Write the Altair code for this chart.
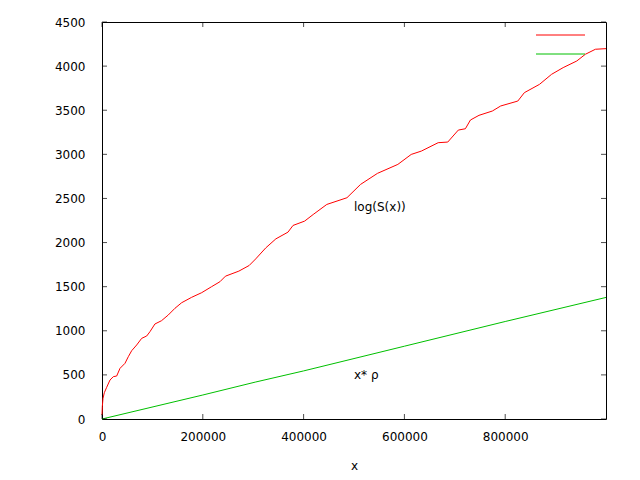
import altair as alt
import pandas as pd

# log(S(x)) curve (red)
red_x = [0, 600, 2000, 4600, 9300, 15900, 22500, 29100, 35700, 45600, 52200, 58900,
         68800, 78700, 88700, 95200, 105000, 118000, 131500, 144800, 158000, 177800,
         197800, 217500, 234000, 245000, 271500, 292000, 305000, 325000, 345000,
         369000, 379000, 402000, 419000, 446000, 486000, 513000, 546500, 587000,
         613500, 633700, 667000, 686000, 707000, 721000, 731000, 748000, 774500,
         791000, 825000, 838000, 868000, 892000, 915000, 942000, 959000, 979000, 1000000]
red_y = [45, 140, 235, 298, 359, 442, 480, 487, 574, 631, 706, 774,
         839, 914, 941, 990, 1077, 1114, 1179, 1255, 1318, 1379,
         1432, 1500, 1556, 1619, 1676, 1740, 1815, 1940, 2042,
         2118, 2194, 2243, 2318, 2432, 2508, 2659, 2784, 2886,
         2999, 3037, 3132, 3139, 3275, 3290, 3389, 3442, 3491,
         3548, 3604, 3699, 3793, 3907, 3983, 4058, 4134, 4191, 4198]

# x*rho line (green)
green_x = [0, 200000, 304000, 400000, 600000, 800000, 1000000]
green_y = [0, 272, 418, 545, 825, 1105, 1378]

x_ticks = [0, 200000, 400000, 600000, 800000]
y_ticks = [0, 500, 1000, 1500, 2000, 2500, 3000, 3500, 4000, 4500]

labels_text = ["log(S(x))", "x* ρ"]
labels_x = [500000, 500000]
labels_y = [2400, 500]

FONT = "DejaVu Sans"
W, H, T = 504, 397, 5
xs = alt.Scale(domain=[0, 1000000], nice=False, zero=False)
ys = alt.Scale(domain=[0, 4500], nice=False, zero=False)

red_df = pd.DataFrame({"x": red_x, "y": red_y})
green_df = pd.DataFrame({"x": green_x, "y": green_y})
lab_df = pd.DataFrame({"x": labels_x, "y": labels_y, "t": labels_text})
xt_df = pd.DataFrame({"x": x_ticks})
yt_df = pd.DataFrame({"y": y_ticks})

ax_bottom = alt.Axis(orient="bottom", values=x_ticks, ticks=False, domain=False,
                     grid=False, labelPadding=12, title="x", titlePadding=18,
                     labelFont=FONT, labelFontSize=12, titleFont=FONT, titleFontSize=12,
                     titleFontWeight="normal", labelColor="#000", titleColor="#000",
                     labelFlush=False, format="d")
ax_left = alt.Axis(orient="left", values=y_ticks, ticks=False, domain=False,
                   grid=False, labelPadding=17, title=None,
                   labelFont=FONT, labelFontSize=12, labelColor="#000",
                   labelFlush=False, format="d")

red = alt.Chart(red_df).mark_line(color="#ff0000", strokeWidth=1).encode(
    x=alt.X("x:Q", scale=xs, axis=ax_bottom),
    y=alt.Y("y:Q", scale=ys, axis=ax_left),
)
green = alt.Chart(green_df).mark_line(color="#00c000", strokeWidth=1).encode(
    x=alt.X("x:Q", scale=xs),
    y=alt.Y("y:Q", scale=ys),
)
texts = alt.Chart(lab_df).mark_text(align="left", baseline="middle", font=FONT,
                                    fontSize=12, color="#000").encode(
    x=alt.X("x:Q", scale=xs),
    y=alt.Y("y:Q", scale=ys),
    text="t:N",
)

# inward tick marks on all four sides
xt_bottom = alt.Chart(xt_df).mark_tick(color="#000", thickness=1, size=T, orient="vertical").encode(
    x=alt.X("x:Q", scale=xs), y=alt.value(H - T / 2))
xt_top = alt.Chart(xt_df).mark_tick(color="#000", thickness=1, size=T, orient="vertical").encode(
    x=alt.X("x:Q", scale=xs), y=alt.value(T / 2))
yt_left = alt.Chart(yt_df).mark_tick(color="#000", thickness=1, size=T, orient="horizontal").encode(
    y=alt.Y("y:Q", scale=ys), x=alt.value(T / 2))
yt_right = alt.Chart(yt_df).mark_tick(color="#000", thickness=1, size=T, orient="horizontal").encode(
    y=alt.Y("y:Q", scale=ys), x=alt.value(W - T / 2))

leg_red = alt.Chart(pd.DataFrame({"k": [0]})).mark_rule(color="#ff0000", strokeWidth=1).encode(
    x=alt.value(434), x2=alt.value(483), y=alt.value(13))
leg_green = alt.Chart(pd.DataFrame({"k": [0]})).mark_rule(color="#00c000", strokeWidth=1).encode(
    x=alt.value(434), x2=alt.value(483), y=alt.value(32))

chart = alt.layer(red, green, texts, xt_bottom, xt_top, yt_left, yt_right,
                  leg_red, leg_green).properties(
    width=W, height=H,
    autosize=alt.AutoSizeParams(type="none"),
    padding={"left": 94, "top": 14, "right": 20, "bottom": 60},
    background="white",
).configure_view(stroke="#000", strokeWidth=1)

chart.save("out.html", embed_options={"renderer": "svg", "actions": False})
